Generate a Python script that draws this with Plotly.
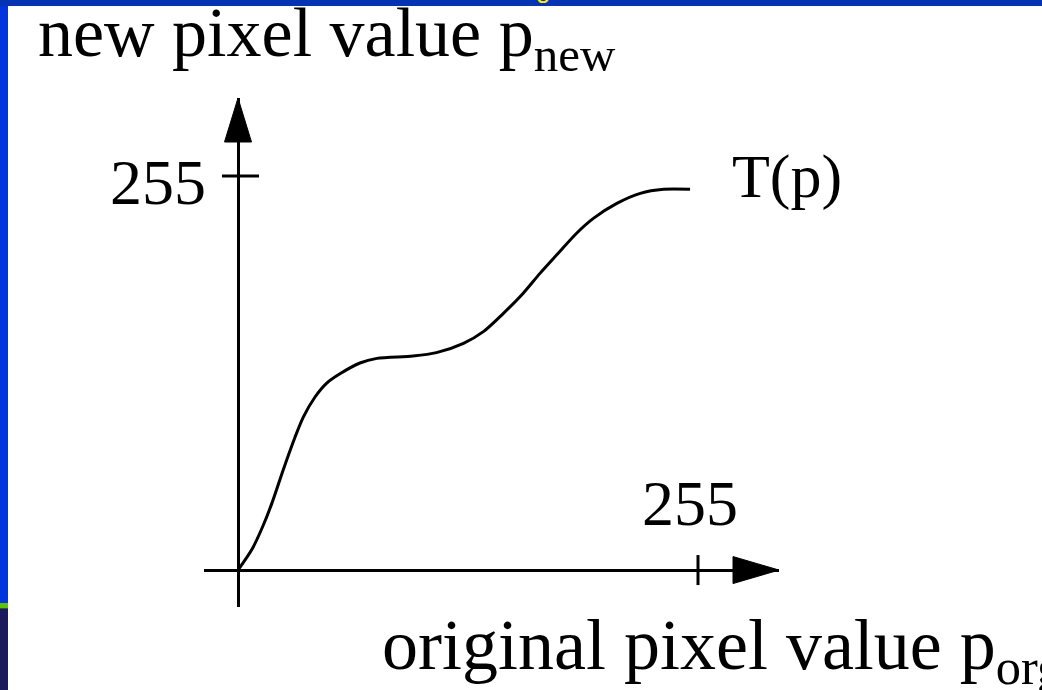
import plotly.graph_objects as go

# Transfer function T(p): original pixel value -> new pixel value
p_org = [0, 8, 14, 18.7, 25.1, 31.6, 36.2, 42.7, 49.2, 56.5, 67.6, 77, 97, 110,
         125, 136, 147, 158, 167.4, 176.7, 187.7, 197, 210, 223, 236, 250.6]
p_new = [0, 14, 29, 43, 65, 86, 99, 112, 121, 127, 134, 137, 138.5, 140.7,
         146.7, 154.3, 166, 179, 192, 204, 218, 227.6, 237.3, 243.8, 246.4, 246.4]

max_value = 255
x_tick_label = "255"
y_tick_label = "255"

W, H = 1042, 690
L, R, T, B = 204, 263, 98, 83
PW, PH = W - L - R, H - T - B

X_RANGE = [-18.85, 299.9]
Y_RANGE = [-23.9, 305.5]

SERIF = "Liberation Serif, Times New Roman, serif"


def px(x):
    return (x - L) / PW


def py(y):
    return (H - B - y) / PH


fig = go.Figure()
fig.add_trace(go.Scatter(
    x=p_org, y=p_new, mode="lines",
    line=dict(color="black", width=3, shape="spline", smoothing=0.8),
    hoverinfo="skip", showlegend=False,
))

shapes = []
# slide frame: top band, left band, lower-left accents
shapes.append(dict(type="rect", xref="paper", yref="paper", x0=px(0), x1=px(W),
                   y0=py(0), y1=py(6), fillcolor="#0632b4", line_width=0, layer="below"))
shapes.append(dict(type="rect", xref="paper", yref="paper", x0=px(0), x1=px(8),
                   y0=py(6), y1=py(603), fillcolor="#0236dc", line_width=0, layer="below"))
shapes.append(dict(type="rect", xref="paper", yref="paper", x0=px(0), x1=px(8),
                   y0=py(603), y1=py(608), fillcolor="#5cc400", line_width=0, layer="below"))
shapes.append(dict(type="rect", xref="paper", yref="paper", x0=px(0), x1=px(8),
                   y0=py(608), y1=py(609), fillcolor="#2f5a30", line_width=0, layer="below"))
shapes.append(dict(type="rect", xref="paper", yref="paper", x0=px(0), x1=px(8),
                   y0=py(609), y1=py(H), fillcolor="#1b1a5c", line_width=0, layer="below"))

# arrowheads at the ends of both axes
shapes.append(dict(type="path", xref="x", yref="y", xsizemode="pixel", ysizemode="pixel",
                   xanchor=X_RANGE[1], yanchor=0,
                   path="M -46,-13.5 L 0,0 L -46,13.5 Z",
                   fillcolor="black", line=dict(color="black", width=1)))
shapes.append(dict(type="path", xref="x", yref="y", xsizemode="pixel", ysizemode="pixel",
                   xanchor=0, yanchor=Y_RANGE[1],
                   path="M -13.5,-44 L 0,0 L 13.5,-44 Z",
                   fillcolor="black", line=dict(color="black", width=1)))

# tick marks at the maximum value
shapes.append(dict(type="line", xref="x", yref="y", ysizemode="pixel", yanchor=0,
                   x0=max_value, x1=max_value, y0=-15, y1=15,
                   line=dict(color="black", width=3)))
shapes.append(dict(type="line", xref="x", yref="y", xsizemode="pixel", xanchor=0,
                   x0=-16, x1=21, y0=max_value, y1=max_value,
                   line=dict(color="black", width=3)))

annotations = [
    dict(text="new pixel value p<sub>new</sub>", xref="paper", yref="paper",
         x=px(36), y=py(-8), xanchor="left", yanchor="top", showarrow=False,
         font=dict(family=SERIF, size=70, color="black")),
    dict(text="original pixel value p<sub>org</sub>", xref="paper", yref="paper",
         x=px(380), y=py(603), xanchor="left", yanchor="top", showarrow=False,
         font=dict(family=SERIF, size=72, color="black")),
    dict(text="T(p)", xref="paper", yref="paper",
         x=px(730), y=py(176), xanchor="left", yanchor="middle", showarrow=False,
         font=dict(family=SERIF, size=62, color="black")),
    dict(text=y_tick_label, xref="paper", yref="y",
         x=px(208), y=max_value, xanchor="right", yanchor="middle", showarrow=False,
         yshift=-6, font=dict(family=SERIF, size=64, color="black")),
    dict(text=x_tick_label, xref="x", yref="paper",
         x=max_value, y=py(503), xanchor="center", yanchor="middle", showarrow=False,
         xshift=-8, font=dict(family=SERIF, size=64, color="black")),
    dict(text="g", xref="paper", yref="paper",
         x=px(543), y=py(6), xanchor="center", yanchor="bottom", showarrow=False,
         font=dict(family="Liberation Sans, Arial, sans-serif", size=26, color="#ffee00")),
]

fig.update_layout(
    width=W, height=H, autosize=False,
    margin=dict(l=L, r=R, t=T, b=B, pad=0),
    paper_bgcolor="white", plot_bgcolor="white",
    shapes=shapes, annotations=annotations,
    xaxis=dict(range=X_RANGE, showgrid=False, showticklabels=False, ticks="",
               zeroline=True, zerolinecolor="black", zerolinewidth=3, fixedrange=True),
    yaxis=dict(range=Y_RANGE, showgrid=False, showticklabels=False, ticks="",
               zeroline=True, zerolinecolor="black", zerolinewidth=3, fixedrange=True),
)

fig.write_html("out.html", config={"displayModeBar": False})
